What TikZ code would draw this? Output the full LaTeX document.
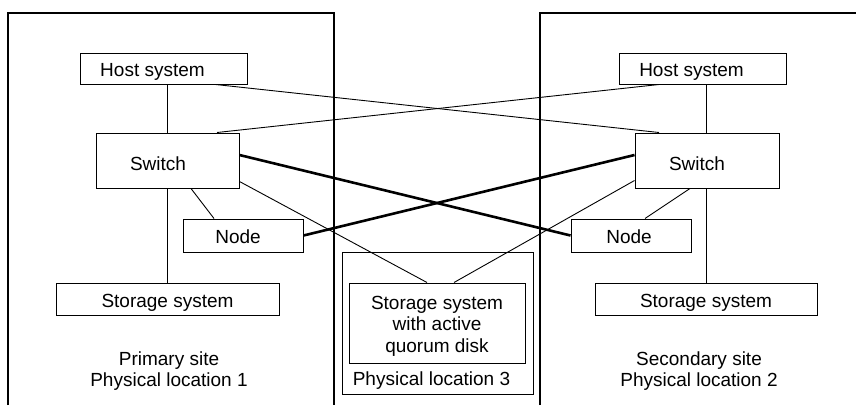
\documentclass[tikz,border=0pt]{standalone}
\usepackage{fontspec}
\setmainfont{Liberation Sans}
\begin{document}
\begin{tikzpicture}[x=1pt,y=-1pt,
  every node/.style={font=\fontsize{19}{21.5}\selectfont},
  box/.style={draw, line width=1pt, inner sep=0pt},
  thin link/.style={line width=0.9pt},
  thick link/.style={line width=2.6pt},
  frame/.style={line width=1.1pt}]
\useasboundingbox (0,0) rectangle (856,405);
% site frames
\draw[frame] (8,405) -- (8,13) -- (334,13) -- (334,405);
\draw[frame] (540,405) -- (540,13) -- (856,13);
% left site
\node[box, minimum width=167pt, minimum height=31pt, label={[xshift=-11pt,yshift=-3pt]center:Host system}] (LHost) at (163.5,68.5) {};
\node[box, minimum width=143pt, minimum height=55pt, label={[xshift=-9.5pt,yshift=-3.5pt]center:Switch}] (LSwitch) at (167.5,160.5) {};
\node[box, minimum width=120pt, minimum height=33pt, label={[xshift=-5pt,yshift=-1pt]center:Node}] (LNode) at (243,235.5) {};
\node[box, minimum width=223pt, minimum height=32pt, label={[yshift=-3.5pt]center:Storage system}] (LStor) at (167.5,299) {};
\node[align=center] (LText) at (169,371) {Primary site\\Physical location 1};
% right site
\node[box, minimum width=167pt, minimum height=31pt, label={[xshift=-11pt,yshift=-3pt]center:Host system}] (RHost) at (702.5,68.5) {};
\node[box, minimum width=144pt, minimum height=55pt, label={[xshift=-10pt,yshift=-3.5pt]center:Switch}] (RSwitch) at (707,160.5) {};
\node[box, minimum width=120pt, minimum height=33pt, label={[xshift=-2pt,yshift=-1pt]center:Node}] (RNode) at (631,235.5) {};
\node[box, minimum width=222pt, minimum height=32pt, label={[yshift=-3.5pt]center:Storage system}] (RStor) at (706,299) {};
\node[align=center] (RText) at (699,371) {Secondary site\\Physical location 2};
% location 3
\node[box, minimum width=191pt, minimum height=142pt] (Loc3) at (437.5,323) {};
\node[box, minimum width=176pt, minimum height=80pt] (QStor) at (437,323) {};
\node[align=center] (QText) at (437,326) {Storage system\\with active\\quorum disk};
\node (Loc3Text) at (431.5,381) {Physical location 3};
% vertical links
\draw[thin link] (LHost.south -| LStor.north) -- (LSwitch.north -| LStor.north);
\draw[thin link] (LSwitch.south -| LStor.north) -- (LStor.north);
\draw[thin link] (RHost.south -| RStor.north) -- (RSwitch.north -| RStor.north);
\draw[thin link] (RSwitch.south -| RStor.north) -- (RStor.north);
% host cross links
\draw[thin link] ([xshift=52pt]LHost.south) -- ([xshift=-48pt]RSwitch.north);
\draw[thin link] ([xshift=-43.5pt]RHost.south) -- ([xshift=49.5pt]LSwitch.north);
% switch to node (thick cross)
\draw[thick link] ([yshift=5.5pt]LSwitch.east) -- (RNode.west);
\draw[thick link] ([yshift=5.5pt]RSwitch.west) -- (LNode.east);
% switch to quorum
\draw[thin link] ([yshift=7pt]LSwitch.south east) -- ([xshift=-10pt]QStor.north);
\draw[thin link] ([yshift=8pt]RSwitch.south west) -- ([xshift=17pt]QStor.north);
% switch to local node
\draw[thin link] ([xshift=23.5pt]LSwitch.south) -- ([xshift=-29pt]LNode.north);
\draw[thin link] ([xshift=-17pt]RSwitch.south) -- ([xshift=14pt]RNode.north);
\end{tikzpicture}
\end{document}
